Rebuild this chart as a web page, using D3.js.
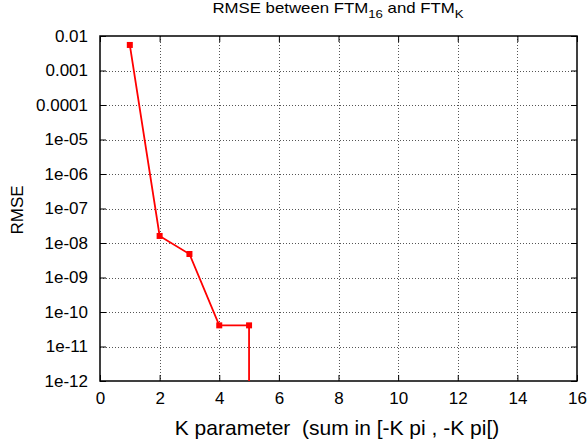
<!DOCTYPE html>
<html>
<head>
<meta charset="utf-8">
<script src="https://cdn.jsdelivr.net/npm/d3@7"></script>
<style>
  html, body { margin: 0; padding: 0; background: #fff; }
  svg { display: block; font-family: "Liberation Sans", Arial, sans-serif; }
</style>
</head>
<body>
<svg id="chart" width="587" height="445"></svg>
<script>
// RMSE of the truncated sum versus K (K = 6 gives exactly 0, off the log axis)
const kValues = [1, 2, 3, 4, 5, 6];
const rmseValues = [5.5e-3, 1.6e-8, 4.8e-9, 4.1e-11, 4.1e-11, 0];
const xTicks = [0, 2, 4, 6, 8, 10, 12, 14, 16];
const yTicks = [1e-12, 1e-11, 1e-10, 1e-9, 1e-8, 1e-7, 1e-6, 1e-5, 1e-4, 1e-3, 1e-2];
const yTickLabels = ["1e-12", "1e-11", "1e-10", "1e-09", "1e-08", "1e-07", "1e-06", "1e-05", "0.0001", "0.001", "0.01"];

const svg = d3.select("#chart");
const margin = { left: 100, right: 10, top: 36, bottom: 64 };
const W = 587, H = 445;
const x = d3.scaleLinear().domain([0, 16]).range([margin.left, W - margin.right]);
const y = d3.scaleLog().domain([1e-12, 1e-2]).range([H - margin.bottom, margin.top]);

const x0 = x.range()[0], x1 = x.range()[1], y0 = y.range()[0], y1 = y.range()[1];

// dotted grid
const grid = svg.append("g").attr("stroke", "#555").attr("stroke-width", 1).attr("stroke-dasharray", "1,2");
xTicks.slice(1, -1).forEach(t => grid.append("line")
  .attr("x1", Math.round(x(t)) + 0.5).attr("x2", Math.round(x(t)) + 0.5)
  .attr("y1", y1).attr("y2", y0));
yTicks.slice(1, -1).forEach(t => grid.append("line")
  .attr("x1", x0).attr("x2", x1)
  .attr("y1", Math.round(y(t)) + 0.5).attr("y2", Math.round(y(t)) + 0.5));

// axes with inward ticks on all four sides
const tickLen = 6;
const yFmt = d => yTickLabels[yTicks.indexOf(d)];
const gx = svg.append("g").attr("transform", `translate(0,${y0})`)
  .call(d3.axisBottom(x).tickValues(xTicks).tickSizeInner(-tickLen).tickSizeOuter(0).tickPadding(11));
const gxTop = svg.append("g").attr("transform", `translate(0,${y1})`)
  .call(d3.axisTop(x).tickValues(xTicks).tickSizeInner(-tickLen).tickSizeOuter(0).tickFormat(""));
const gy = svg.append("g").attr("transform", `translate(${x0},0)`)
  .call(d3.axisLeft(y).tickValues(yTicks).tickFormat(yFmt).tickSizeInner(-tickLen).tickSizeOuter(0).tickPadding(12));
const gyR = svg.append("g").attr("transform", `translate(${x1},0)`)
  .call(d3.axisRight(y).tickValues(yTicks).tickSizeInner(-tickLen).tickSizeOuter(0).tickFormat(""));
[gx, gxTop, gy, gyR].forEach(g => {
  g.select(".domain").remove();
  g.selectAll("line").attr("stroke", "#000");
  g.selectAll("text").attr("font-size", 17).attr("fill", "#000")
    .attr("font-family", "'Liberation Sans', Arial, sans-serif");
});

// border
svg.append("rect").attr("x", x0).attr("y", y1).attr("width", x1 - x0).attr("height", y0 - y1)
  .attr("fill", "none").attr("stroke", "#000").attr("stroke-width", 1.5);

// data line; a zero value drops straight down to the bottom edge
const pts = [];
kValues.forEach((k, i) => {
  const v = rmseValues[i];
  if (v > 0) pts.push([x(k), y(v)]);
  else pts.push([pts[pts.length - 1][0], y0]);
});
svg.append("path").attr("d", d3.line()(pts))
  .attr("fill", "none").attr("stroke", "#f00").attr("stroke-width", 1.8);
svg.append("g").selectAll("rect")
  .data(kValues.map((k, i) => [k, rmseValues[i]]).filter(d => d[1] > 0))
  .join("rect")
  .attr("x", d => x(d[0]) - 3).attr("y", d => y(d[1]) - 3).attr("width", 6).attr("height", 6)
  .attr("fill", "#f00");

// title, drawn slightly widened
const title = svg.append("text").attr("transform", "translate(338,13) scale(1.2,1)")
  .attr("text-anchor", "middle").attr("font-size", 14).attr("fill", "#000");
title.append("tspan").text("RMSE between FTM");
title.append("tspan").attr("font-size", 11).attr("dy", 5).text("16");
title.append("tspan").attr("dy", -5).text(" and FTM");
title.append("tspan").attr("font-size", 11).attr("dy", 5).text("K");

svg.append("text").attr("x", 337).attr("y", 435).attr("text-anchor", "middle")
  .attr("font-size", 21).attr("fill", "#000").style("white-space", "pre")
  .text("K parameter  (sum in [-K pi , -K pi[)");

svg.append("text").attr("transform", "translate(23,210) rotate(-90)").attr("text-anchor", "middle")
  .attr("font-size", 17).attr("fill", "#000").text("RMSE");
</script>
</body>
</html>
